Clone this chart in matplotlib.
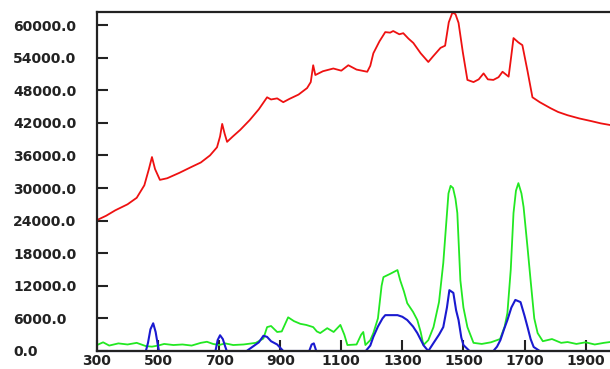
import matplotlib
matplotlib.use("Agg")
import matplotlib.pyplot as plt

red_x = [300, 330, 360, 400, 430, 455, 470, 480, 490, 506, 530, 570, 610, 640, 670, 693, 703, 710, 718, 726,
         745, 769, 800, 830, 857, 870, 890, 910, 930, 960, 988, 1000, 1008, 1015, 1040, 1074, 1100, 1123, 1150,
         1185, 1195, 1205, 1225, 1244, 1260, 1270, 1290, 1303, 1320, 1336, 1360, 1385, 1400, 1425, 1440, 1452,
         1464, 1474, 1484, 1498, 1513, 1533, 1550, 1566, 1580, 1598, 1615, 1628, 1648, 1656, 1664, 1680, 1693,
         1710, 1726, 1750, 1785, 1810, 1841, 1880, 1920, 1950, 1980]
red_y = [24100, 24900, 25900, 27000, 28200, 30500, 33500, 35700, 33500, 31500, 31800, 32800, 33900, 34700,
         36000, 37500, 39500, 41800, 40000, 38500, 39500, 40700, 42500, 44500, 46700, 46300, 46500, 45800,
         46400, 47200, 48400, 49500, 52600, 50800, 51500, 52000, 51600, 52600, 51800, 51400, 52500, 54800,
         57000, 58700, 58600, 58900, 58300, 58500, 57500, 56700, 54800, 53200, 54200, 55800, 56200, 60500,
         62300, 62000, 60400, 55000, 49900, 49500, 50000, 51100, 50000, 49900, 50400, 51400, 50500, 54000,
         57600, 56800, 56300, 51500, 46700, 45800, 44700, 44000, 43400, 42800, 42300, 41900, 41600]

green_x = [300, 320, 340, 370, 400, 430, 460, 480, 500, 520, 550, 580, 610, 640, 660, 680, 700, 720, 746, 780,
           820, 845, 857, 870, 890, 905, 926, 945, 966, 985, 1008, 1020, 1031, 1054, 1075, 1097, 1110, 1120,
           1150, 1165, 1172, 1179, 1195, 1205, 1220, 1232, 1238, 1260, 1284, 1293, 1305, 1316, 1335, 1349,
           1360, 1369, 1385, 1402, 1420, 1434, 1443, 1451, 1458, 1466, 1474, 1480, 1490, 1500, 1513, 1533,
           1560, 1590, 1620, 1635, 1644, 1655, 1664, 1672, 1680, 1690, 1697, 1710, 1720, 1732, 1743, 1760,
           1790, 1820, 1841, 1870, 1900, 1930, 1960, 1980]
green_y = [1100, 1600, 1000, 1400, 1200, 1500, 900, 800, 1000, 1300, 1100, 1200, 1000, 1500, 1700, 1300,
           1100, 1400, 1100, 1200, 1500, 2300, 4400, 4600, 3500, 3600, 6200, 5500, 5000, 4800, 4400, 3600,
           3300, 4200, 3500, 4800, 3000, 1100, 1200, 3000, 3500, 1100, 2000, 3300, 6000, 12000, 13600, 14200,
           14900, 13000, 11000, 8800, 7200, 5700, 3500, 1100, 2000, 4400, 9000, 16200, 23000, 29000, 30400,
           30000, 28000, 25400, 13000, 8000, 4400, 1500, 1300, 1600, 2200, 4500, 7000, 15000, 25400, 29500,
           30900, 29000, 26500, 19000, 13000, 6000, 3300, 1800, 2200, 1500, 1650, 1300, 1600, 1200, 1500, 1650]

blue_x = [300, 460, 467, 475, 484, 492, 498, 503, 688, 695, 703, 712, 720, 725, 790, 810, 830, 845, 857, 870,
          890, 900, 910, 995, 1003, 1010, 1018, 1180, 1195, 1205, 1220, 1235, 1244, 1284, 1300, 1316, 1335,
          1349, 1370, 1385, 1402, 1420, 1434, 1446, 1454, 1467, 1476, 1484, 1493, 1500, 1520, 1598, 1610,
          1621, 1633, 1644, 1657, 1670, 1687, 1700, 1710, 1720, 1730, 1750, 1980]
blue_y = [0, 0, 1500, 4000, 5100, 3500, 1500, 0, 0, 2000, 2900, 2200, 800, 0, 0, 800, 1600, 2800, 2600, 1800,
          1200, 600, 0, 0, 1200, 1400, 0, 0, 1000, 2600, 4500, 6000, 6600, 6600, 6300, 5700, 4500, 3300, 1000,
          0, 1470, 3000, 4400, 8000, 11200, 10700, 7500, 5700, 2500, 1100, 0, 0, 800, 2000, 4000, 5700, 8000,
          9400, 9000, 6500, 4400, 2200, 740, 0, 0]

x_ticks = [300, 500, 700, 900, 1100, 1300, 1500, 1700, 1900]
y_ticks = [0, 6000, 12000, 18000, 24000, 30000, 36000, 42000, 48000, 54000, 60000]

fig = plt.figure(figsize=(6.1, 3.69), dpi=100)
ax = fig.add_axes([97 / 610, 1 - 351 / 369, 1 - 97 / 610, (351 - 12) / 369])

ax.plot(red_x, red_y, color="#ee1111", lw=1.3)
ax.plot(green_x, green_y, color="#22e822", lw=1.3)
ax.plot(blue_x, blue_y, color="#1a1ad0", lw=1.5, clip_on=False)

ax.set_xlim(300, 1980)
ax.set_ylim(0, 62400)
ax.set_xticks(x_ticks)
ax.set_yticks(y_ticks)
ax.set_yticklabels([f"{v:.1f}" for v in y_ticks])

for s in ["left", "top", "bottom"]:
    ax.spines[s].set_linewidth(1.6)
    ax.spines[s].set_color("#222222")
ax.spines["right"].set_visible(False)

ax.tick_params(axis="both", direction="in", length=8, width=1.5, colors="#222222",
               labelsize=10, labelcolor="#222222")
ax.tick_params(axis="y", pad=60.5)
ax.tick_params(axis="x", pad=2)
for lab in ax.get_yticklabels():
    lab.set_horizontalalignment("left")
    lab.set_fontweight("bold")
for lab in ax.get_xticklabels():
    lab.set_fontweight("bold")

fig.savefig("out.png", dpi=100)
